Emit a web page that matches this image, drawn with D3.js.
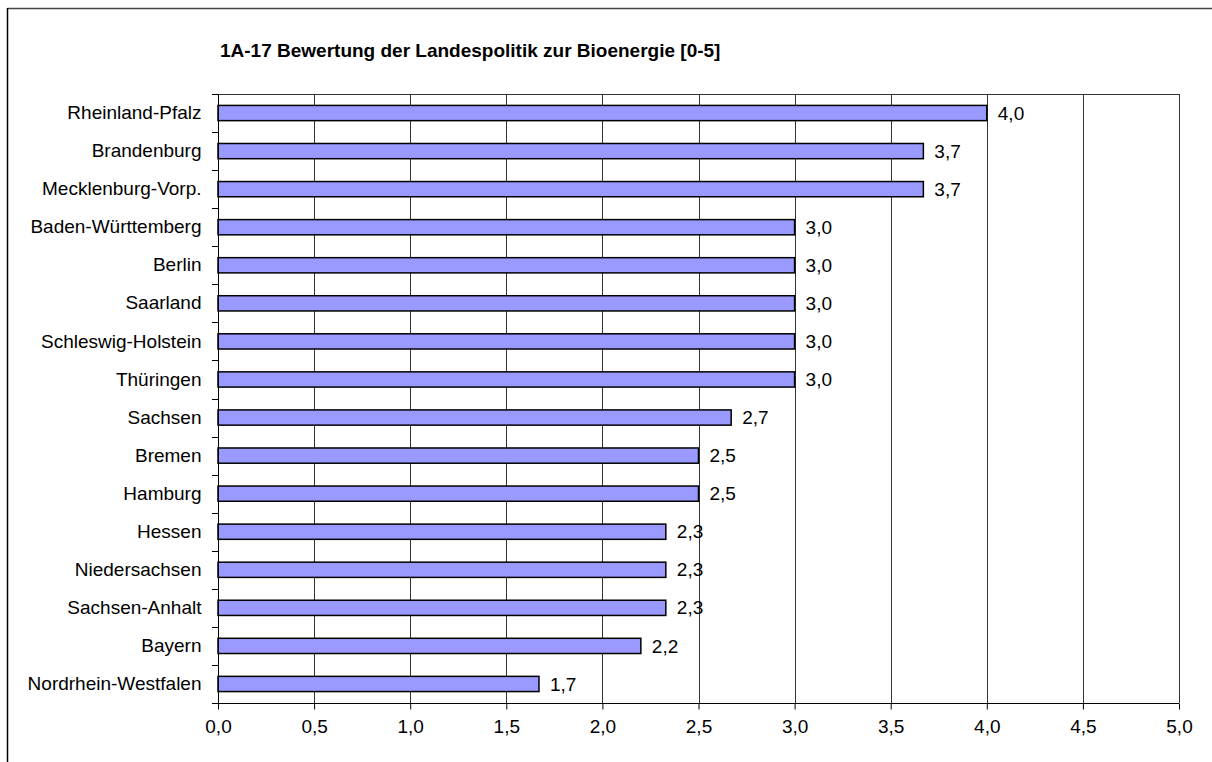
<!DOCTYPE html>
<html>
<head>
<meta charset="utf-8">
<script src="https://cdn.jsdelivr.net/npm/d3@7"></script>
<style>
  body { margin: 0; background: #fff; }
  svg { display: block; font-family: "Liberation Sans", Arial, sans-serif; }
</style>
</head>
<body>
<svg id="chart" width="1212" height="762"></svg>
<script>
const title = "1A-17 Bewertung der Landespolitik zur Bioenergie [0-5]";
const categories = ["Rheinland-Pfalz", "Brandenburg", "Mecklenburg-Vorp.", "Baden-Württemberg", "Berlin", "Saarland", "Schleswig-Holstein", "Thüringen", "Sachsen", "Bremen", "Hamburg", "Hessen", "Niedersachsen", "Sachsen-Anhalt", "Bayern", "Nordrhein-Westfalen"];
const values = [4.0, 3.67, 3.67, 3.0, 3.0, 3.0, 3.0, 3.0, 2.67, 2.5, 2.5, 2.33, 2.33, 2.33, 2.2, 1.67];
const xTicks = [0, 0.5, 1, 1.5, 2, 2.5, 3, 3.5, 4, 4.5, 5];

(function () {
const svg = d3.select("#chart");
const pL = 218, pR = 1179, pT = 94, pB = 703;
const FS = 19;
const fmt = v => d3.format(".1f")(v).replace(".", ",");

// outer frame
svg.append("line").attr("x1", 7.5).attr("x2", 1212).attr("y1", 8.5).attr("y2", 8.5).attr("stroke", "#444").attr("stroke-width", 1.5);
svg.append("line").attr("x1", 7.5).attr("x2", 7.5).attr("y1", 8).attr("y2", 762).attr("stroke", "#000").attr("stroke-width", 1.5);

const x = d3.scaleLinear().domain([0, 5]).range([pL, pR]);
const y = d3.scaleBand().domain(categories).range([pT, pB]).paddingInner(0.6).paddingOuter(0.3);
const yb = d3.scaleBand().domain(categories).range([pT, pB]);

// title
svg.append("text").attr("x", 220).attr("y", 57).attr("font-size", FS).attr("font-weight", "bold").text(title);

// grid
svg.append("g").selectAll("line").data(xTicks.slice(1)).join("line")
  .attr("x1", d => Math.round(x(d)) + 0.5).attr("x2", d => Math.round(x(d)) + 0.5)
  .attr("y1", pT).attr("y2", pB).attr("stroke", "#333").attr("stroke-width", 1);
// top border of plot
svg.append("line").attr("x1", pL - 6).attr("x2", Math.round(x(5)) + 0.5).attr("y1", pT + 0.5).attr("y2", pT + 0.5).attr("stroke", "#333");

// bars
svg.append("g").selectAll("rect").data(values).join("rect")
  .attr("x", x(0)).attr("y", (d, i) => y(categories[i]))
  .attr("width", d => x(d) - x(0)).attr("height", y.bandwidth())
  .attr("fill", "#9999FF").attr("stroke", "#000").attr("stroke-width", 1.5);

// value labels
svg.append("g").selectAll("text").data(values).join("text")
  .attr("x", d => x(d) + 11).attr("y", (d, i) => y(categories[i]) + y.bandwidth() / 2)
  .attr("dy", "0.35em").attr("font-size", FS).attr("fill", "#000").text(d => fmt(d));

// x axis
const xAxis = d3.axisBottom(x).tickValues(xTicks).tickFormat(fmt).tickSize(6).tickPadding(10);
const gx = svg.append("g").attr("transform", `translate(0,${pB + 0.5})`).call(xAxis);
gx.selectAll("text").attr("font-size", FS).attr("fill", "#000").attr("font-family", "Liberation Sans, Arial, sans-serif");
gx.selectAll("line, path").attr("stroke", "#000");
gx.select(".domain").attr("d", `M${pL},0H${pR}`);

// y axis
const yAxis = d3.axisLeft(yb).tickSize(0).tickPadding(17);
const gy = svg.append("g").attr("transform", `translate(${pL + 0.5},0)`).call(yAxis);
gy.selectAll("text").attr("font-size", FS).attr("fill", "#000").attr("font-family", "Liberation Sans, Arial, sans-serif");
gy.select(".domain").attr("d", `M0,${pT}V${pB}`).attr("stroke", "#000");
// y ticks at band boundaries
svg.append("g").selectAll("line").data(d3.range(categories.length + 1)).join("line")
  .attr("x1", pL - 6).attr("x2", pL).attr("y1", i => Math.round(pT + i * yb.step()) + 0.5).attr("y2", i => Math.round(pT + i * yb.step()) + 0.5)
  .attr("stroke", "#000");
})();
</script>
</body>
</html>
